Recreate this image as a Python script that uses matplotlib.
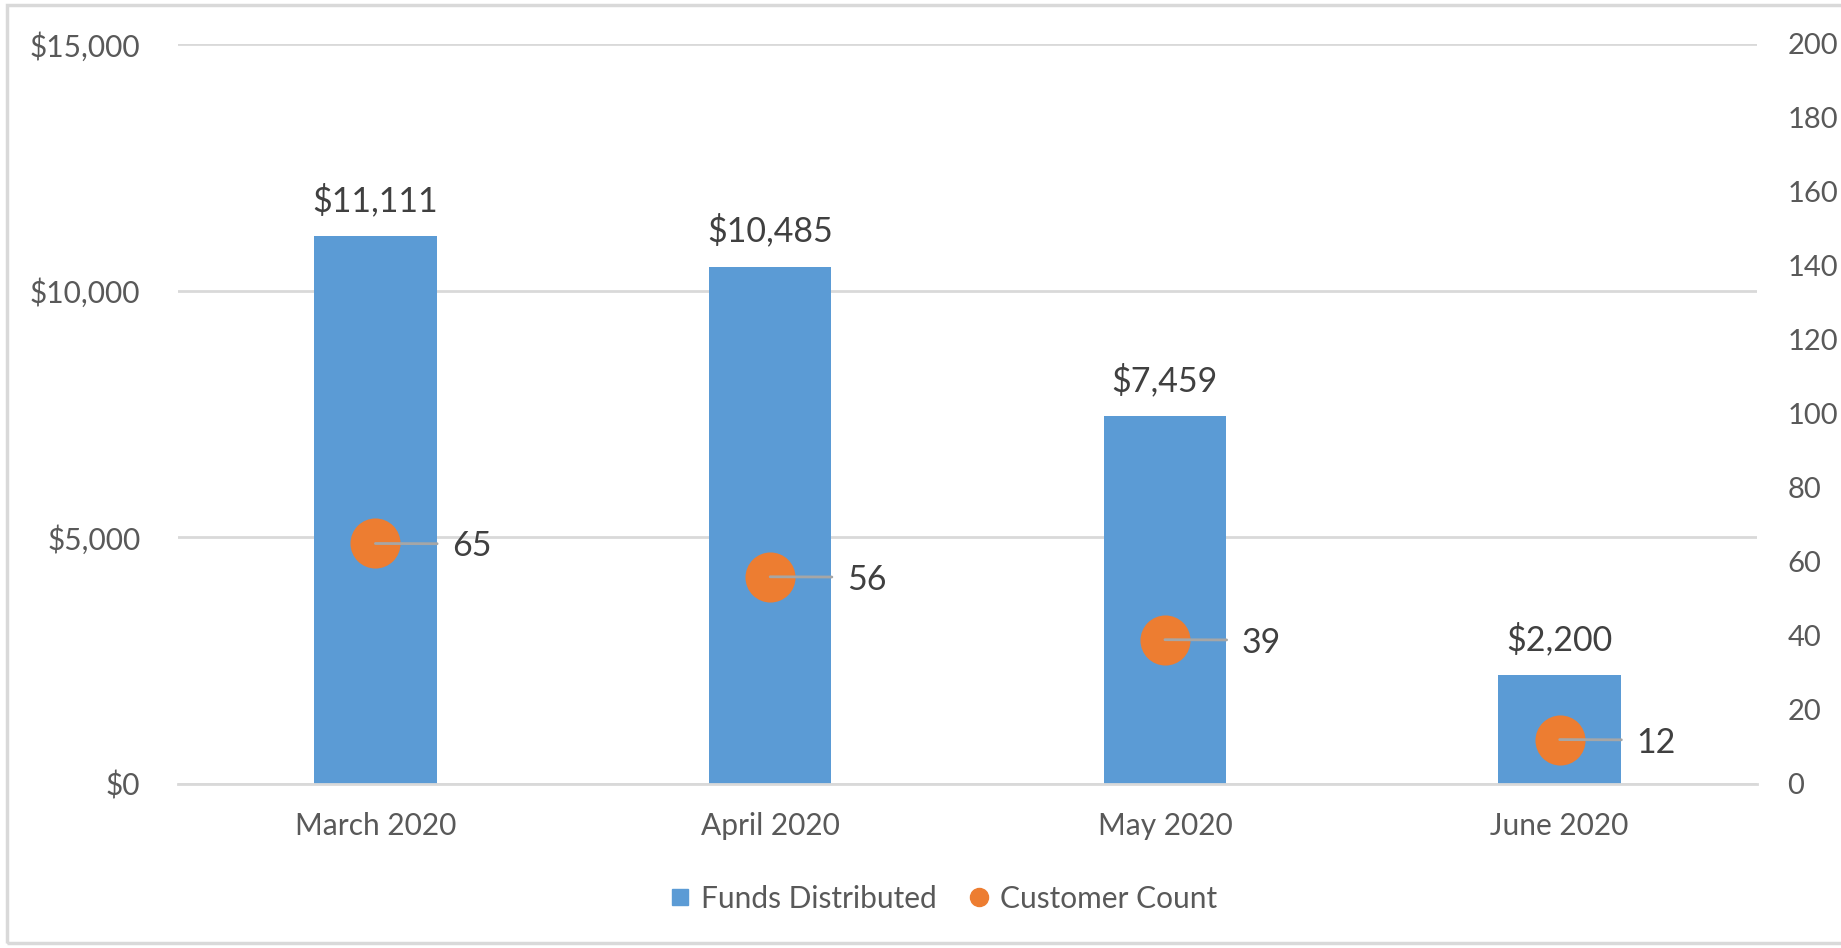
import matplotlib
matplotlib.use("Agg")
import matplotlib.pyplot as plt
from matplotlib.patches import Rectangle
from matplotlib.lines import Line2D
from matplotlib.ticker import FuncFormatter, MultipleLocator

months = ["March 2020", "April 2020", "May 2020", "June 2020"]
funds = [11111, 10485, 7459, 2200]
customers = [65, 56, 39, 12]

blue = "#5B9BD5"
orange = "#ED7D31"
txt = "#595959"
grid = "#D9D9D9"

plt.rcParams["font.family"] = ["Lato", "DejaVu Sans"]

fig = plt.figure(figsize=(18.41, 9.48), dpi=100)
ax = fig.add_axes([0.0967, 0.173, 0.8577, 0.7806])
ax2 = ax.twinx()

x = list(range(len(months)))
ax.bar(x, funds, width=0.31, color=blue, zorder=2)
ax.set_xlim(-0.5, len(months) - 0.5)
ax.set_ylim(0, 15000)
ax.yaxis.set_major_locator(MultipleLocator(5000))
ax.yaxis.set_major_formatter(FuncFormatter(lambda v, p: f"${v:,.0f}"))
ax.grid(axis="y", color=grid, linewidth=2, zorder=0)
ax.set_axisbelow(True)
ax.set_xticks(x)
ax.set_xticklabels(months)

for i, v in zip(x, funds):
    ax.annotate(f"${v:,}", (i, v), xytext=(0, 19), textcoords="offset pixels",
                ha="center", va="bottom", fontsize=24.5, color="#404040")

ax2.scatter(x, customers, s=1300, color=orange, zorder=3, linewidths=0)
ax2.set_ylim(0, 200)
ax2.yaxis.set_major_locator(MultipleLocator(20))
for i, c in zip(x, customers):
    # label sits a bit low, leader stays level with the dot
    ax2.annotate(str(c), (i, c), xytext=(77, -3), textcoords="offset pixels",
                 ha="left", va="center", fontsize=24.5, color="#404040", zorder=5,
                 arrowprops=dict(arrowstyle="-", color="#A6A6A6", lw=2,
                                 relpos=(0, 0.585), shrinkA=9, shrinkB=0))

for a in (ax, ax2):
    for s in a.spines.values():
        s.set_visible(False)
    a.tick_params(length=0, labelsize=21.5, labelcolor=txt)
ax.spines["bottom"].set_visible(True)
ax.spines["bottom"].set_color(grid)
ax.spines["bottom"].set_linewidth(2)
ax.tick_params(axis="y", pad=27)
ax.tick_params(axis="x", pad=20)
ax2.tick_params(axis="y", pad=22, labelsize=21)

handles = [
    Line2D([], [], marker="s", color=blue, linestyle="none", markersize=11),
    Line2D([], [], marker="o", color=orange, linestyle="none", markersize=13),
]
fig.legend(handles, ["Funds Distributed", "Customer Count"], loc="center",
           bbox_to_anchor=(0.512, 0.052), ncol=2, frameon=False, fontsize=21.5,
           labelcolor=txt, handlelength=0.8, handletextpad=0.3, columnspacing=1.0)

fig.patches.append(Rectangle((0.004, 0.005), 1.1, 0.99, transform=fig.transFigure,
                             fill=False, edgecolor=grid, linewidth=2.5))

fig.savefig("out.png", dpi=100)
